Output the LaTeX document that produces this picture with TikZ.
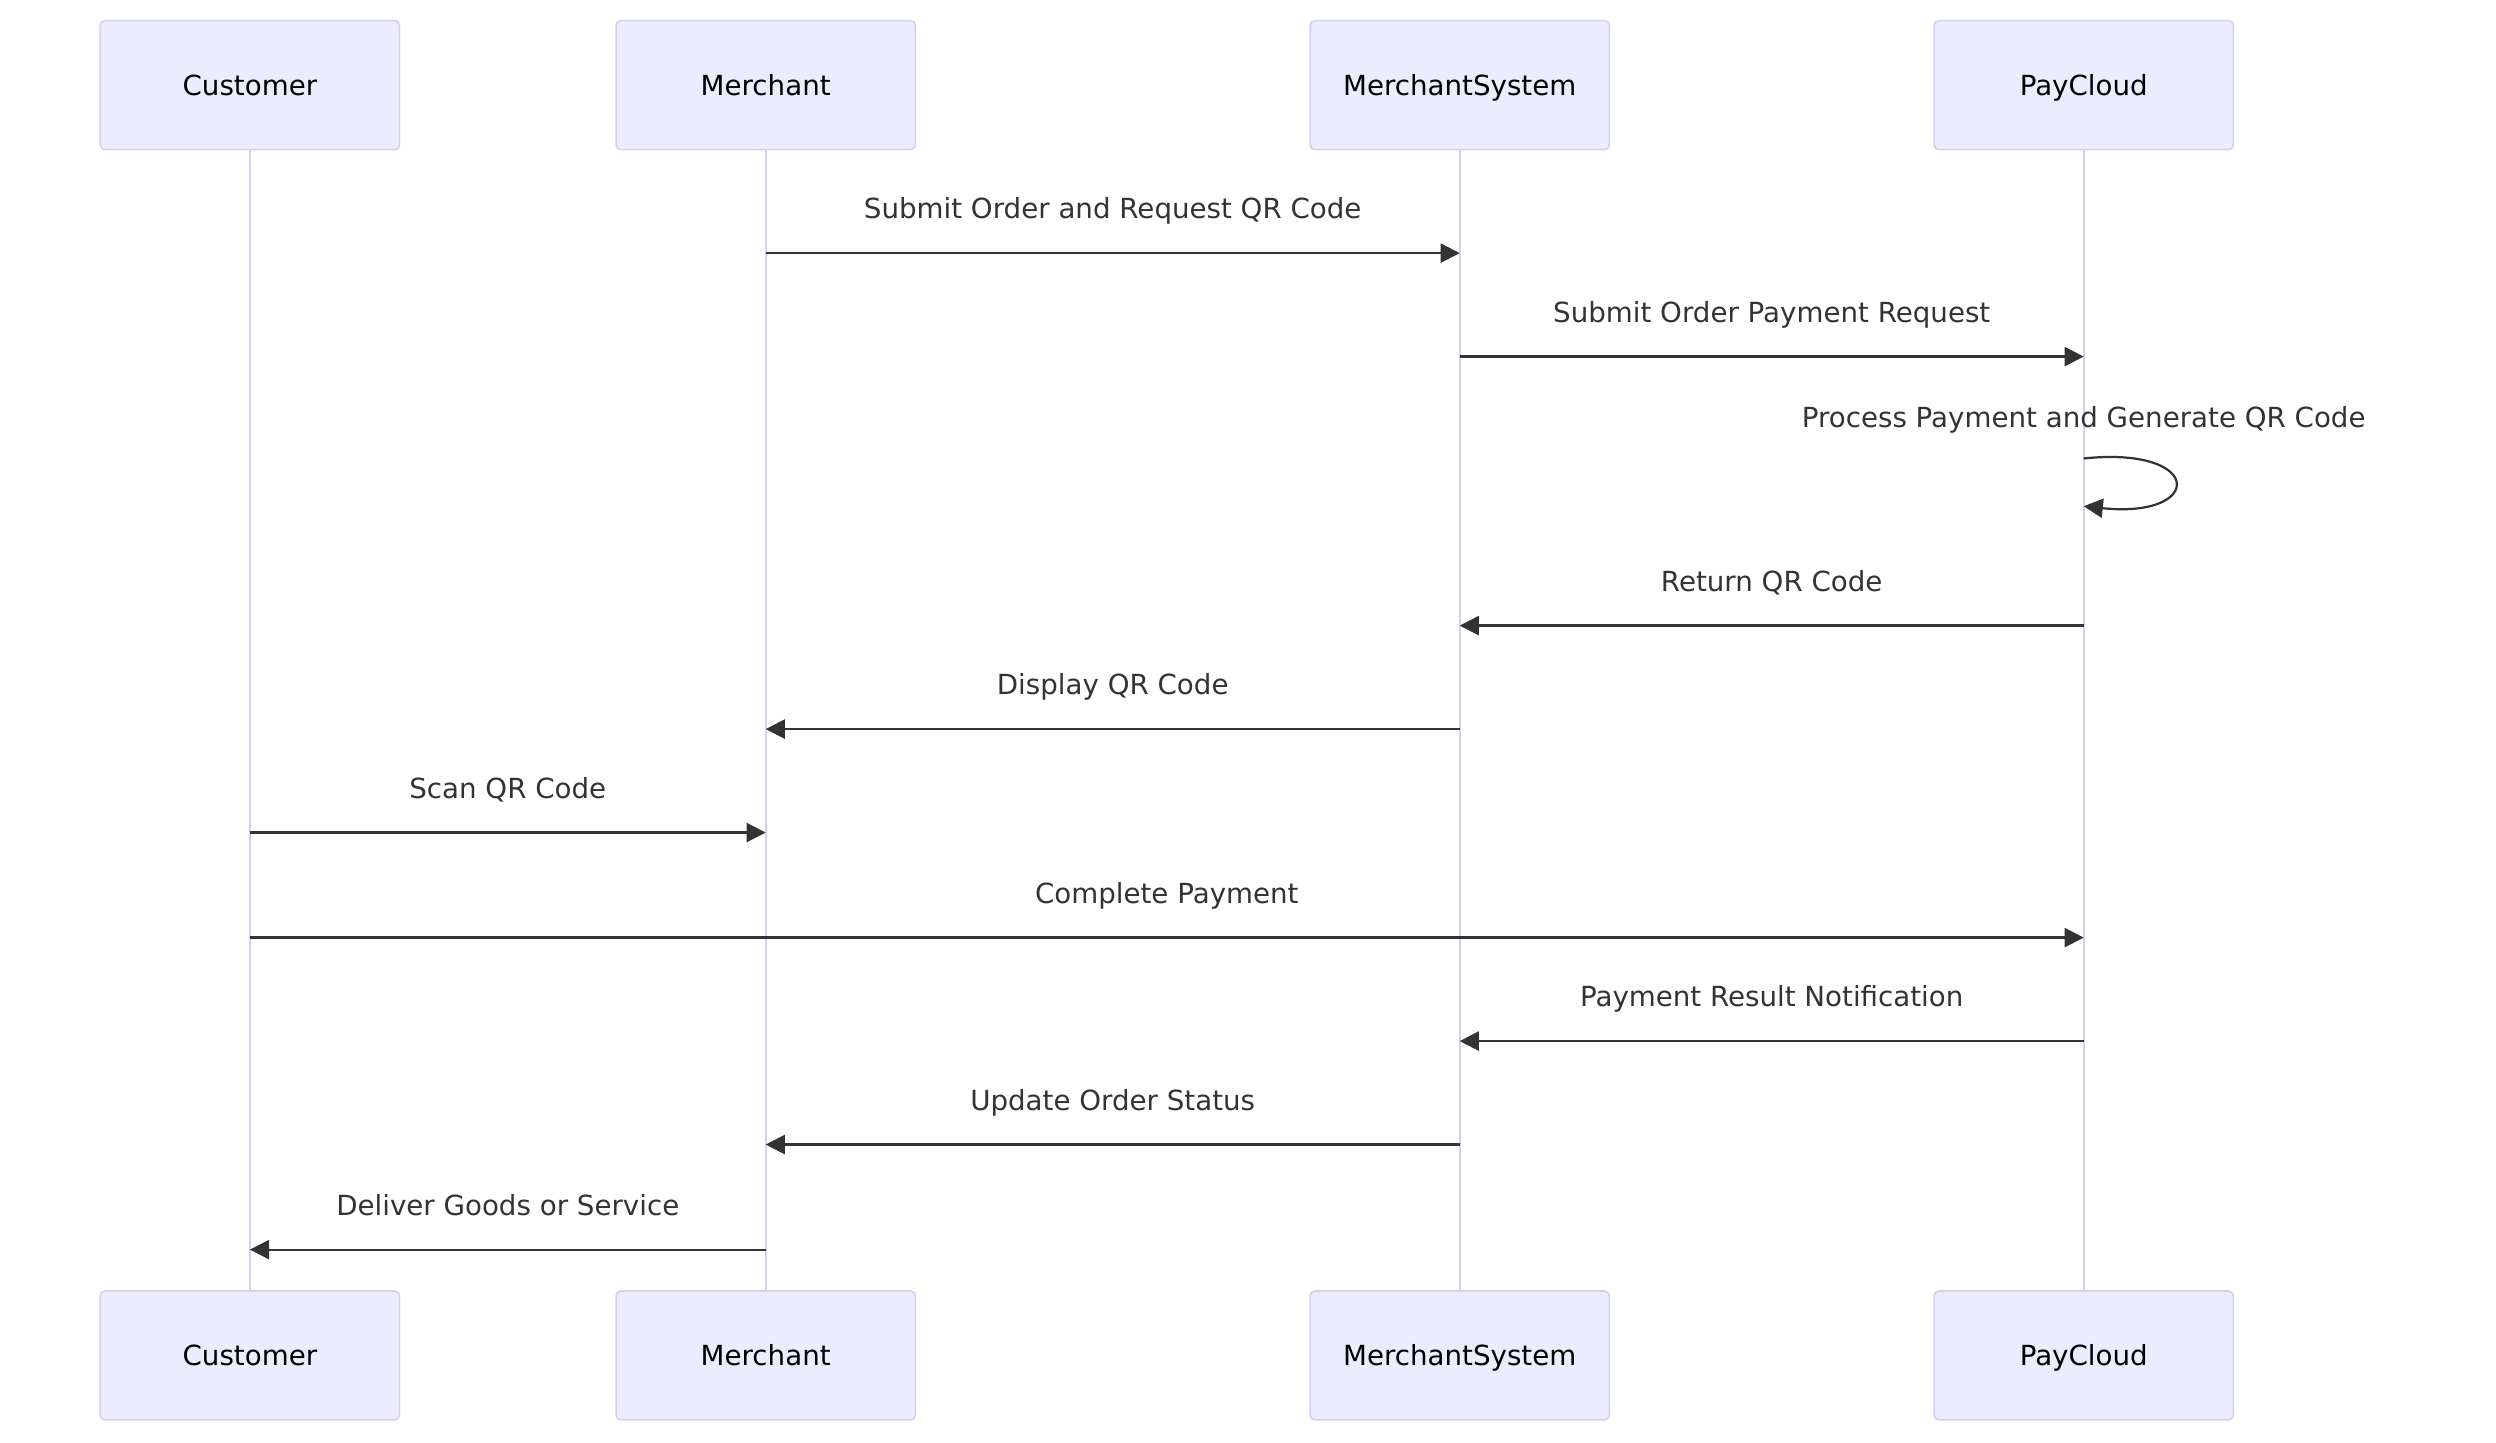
\documentclass[tikz,border=0pt]{standalone}
\usepackage{fontspec}
\setmainfont{DejaVu Sans}
\usetikzlibrary{positioning,arrows.meta}

\definecolor{actorfill}{HTML}{ECECFF}
\definecolor{actorline}{RGB}{216,206,243}
\definecolor{msgline}{HTML}{333333}

\tikzset{
  actor/.style={draw=actorline, fill=actorfill, rounded corners=3pt, line width=1pt,
    minimum width=188pt, minimum height=81pt, text height=12.7pt, text depth=0pt,
    font=\fontsize{17.4}{20}\selectfont},
  life/.style={draw=actorline, line width=1.4pt},
  msg/.style={draw=msgline, line width=1.4pt, -{Triangle[length=12pt,width=12pt]}},
  lbl/.style={text=msgline, anchor=base, font=\fontsize{17.4}{20}\selectfont}
}

\begin{document}
\begin{tikzpicture}[x=1pt,y=-1pt]
\useasboundingbox (0,0) rectangle (1568,906);

\foreach \name/\x/\txt in {cust/157/Customer, merch/481/Merchant, msys/917/MerchantSystem, pay/1309/PayCloud} {
    \node[actor] (\name) at (\x,53.5) {\txt};
    \node[actor] (\name B) at (\x,851.5) {\txt};
    \draw[life] (\name) -- (\name B);
}

\foreach \from/\to/\y/\txt in {merch/msys/159/Submit Order and Request QR Code,
    msys/pay/224/Submit Order Payment Request,
    pay/msys/393/Return QR Code,
    msys/merch/458/Display QR Code,
    cust/merch/523/Scan QR Code,
    cust/pay/589/Complete Payment,
    pay/msys/654/Payment Result Notification,
    msys/merch/719/Update Order Status,
    merch/cust/785/Deliver Goods or Service} {
    \draw[msg] (\from |- 0,\y) -- (\to |- 0,\y) node[lbl, midway, yshift=21.5pt] {\txt};
}

% self call on PayCloud
\coordinate (loopA) at (pay |- 0,288);
\coordinate (loopB) at (pay |- 0,318);
\node[lbl] (loopL) at (pay |- 0,268.5) {Process Payment and Generate QR Code};
\draw[msg] (loopA) .. controls +(76,-8) and +(76,8) .. (loopB);
\end{tikzpicture}
\end{document}
